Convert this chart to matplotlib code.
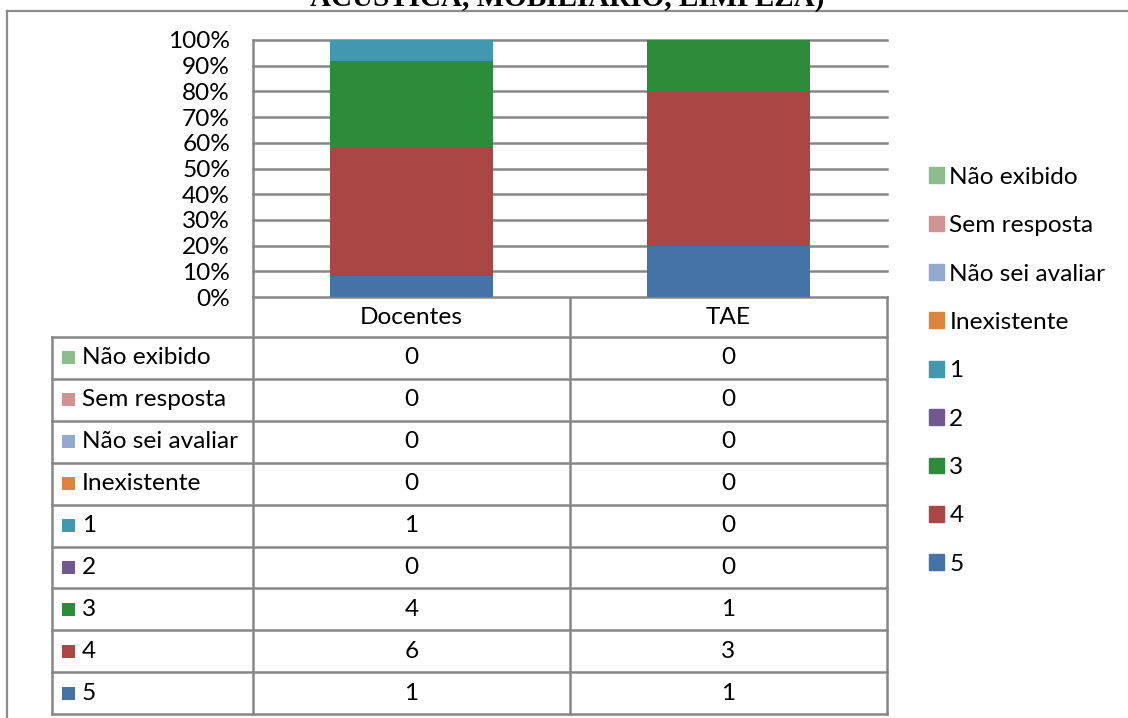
import numpy as np
import matplotlib
matplotlib.use("Agg")
import matplotlib.pyplot as plt
from matplotlib.patches import Patch

# respostas por categoria (ordem de empilhamento: de baixo para cima)
grupos = ["Docentes", "TAE"]
series = ["5", "4", "3", "2", "1", "Inexistente", "Não sei avaliar",
          "Sem resposta", "Não exibido"]
docentes = [1, 6, 4, 0, 1, 0, 0, 0, 0]
tae = [1, 3, 1, 0, 0, 0, 0, 0, 0]
cores = ["#4572A7", "#AA4643", "#2D8C3A", "#71588F", "#4198AF",
         "#DB843D", "#93A9CF", "#D19392", "#8DBC8D"]
titulo = "ACÚSTICA, MOBILIÁRIO, LIMPEZA)"

W, H = 1128, 718
fonte = "Lato"
tam = 17.6
cinza = "#878787"

fig = plt.figure(figsize=(W / 100, H / 100), dpi=100)

# grafico 100% empilhado
x0, x1, y0, y1 = 253, 887, 40, 297
ax = fig.add_axes([x0 / W, 1 - y1 / H, (x1 - x0) / W, (y1 - y0) / H])
valores = np.array([docentes, tae], dtype=float).T
pct = valores / valores.sum(axis=0)
pos = np.arange(len(grupos)) + 0.5
base = np.zeros(len(grupos))
for nome, p, c in zip(series, pct, cores):
    ax.bar(pos, p, bottom=base, width=0.515, color=c, label=nome,
           zorder=2, linewidth=0)
    base += p
ax.set_xlim(0, len(grupos))
ax.set_ylim(0, 1)
ticks = np.arange(0, 1.01, 0.1)
ax.set_yticks(ticks)
ax.set_yticklabels([f"{int(round(t * 100))}%" for t in ticks],
                   fontfamily=fonte, fontsize=tam)
ax.set_xticks([])
for t in ticks:
    ax.axhline(t, color=cinza, lw=1.8, zorder=1, clip_on=False)
for s in ["top", "right", "bottom"]:
    ax.spines[s].set_visible(False)
ax.spines["left"].set_color(cinza)
ax.spines["left"].set_linewidth(1.8)
ax.tick_params(axis="y", length=0, pad=16.5)

# tabela de dados e moldura em coordenadas de pixel
tx = fig.add_axes([0, 0, 1, 1], zorder=-1)
tx.set_xlim(0, W)
tx.set_ylim(H, 0)
tx.axis("off")

colunas = [52, 253, 570, 887]
topo, cab = 297, 337
alt = 41.9
nlin = len(series)
fundo = cab + nlin * alt
kw = dict(color=cinza, lw=1.8, solid_capstyle="projecting")
for xc in colunas[1:]:
    tx.plot([xc, xc], [topo, fundo], **kw)
tx.plot([colunas[0], colunas[0]], [cab, fundo], **kw)
for i in range(nlin + 1):
    yl = cab + i * alt
    tx.plot([colunas[0], colunas[-1]], [yl, yl], **kw)

for j, g in enumerate(grupos):
    xc = (colunas[j + 1] + colunas[j + 2]) / 2
    tx.text(xc, (topo + cab) / 2, g, ha="center", va="center",
            fontfamily=fonte, fontsize=tam)

linhas = list(zip(series, cores, docentes, tae))[::-1]
for i, (nome, c, d, t) in enumerate(linhas):
    yc = cab + (i + 0.5) * alt
    tx.add_patch(plt.Rectangle((62, yc - 6.5), 13, 13, color=c, lw=0))
    tx.text(82, yc, nome, ha="left", va="center",
            fontfamily=fonte, fontsize=tam)
    for j, v in enumerate((d, t)):
        xc = (colunas[j + 1] + colunas[j + 2]) / 2
        tx.text(xc, yc, str(v), ha="center", va="center",
                fontfamily=fonte, fontsize=tam)

# moldura do grafico
tx.plot([7, 7], [10.5, H], color="#8c8c8c", lw=1.6)
tx.plot([7, W], [10.5, 10.5], color="#8c8c8c", lw=1.6)

# legenda
alcas = [Patch(color=c, label=n) for n, c in zip(series, cores)][::-1]
fig.legend(handles=alcas, loc="upper left",
           bbox_to_anchor=(919 / W, 1 - 157 / H), frameon=False,
           prop=dict(family=fonte, size=tam), handlelength=0.62,
           handleheight=0.62, handletextpad=0.22, labelspacing=1.12,
           borderaxespad=0)

# titulo (apenas a parte de baixo fica dentro da figura)
fig.text(567 / W, 1 - 6 / H, titulo, ha="center", va="baseline",
         fontfamily="Liberation Serif", fontweight="bold", fontsize=21)

fig.savefig("out.png", dpi=100)
